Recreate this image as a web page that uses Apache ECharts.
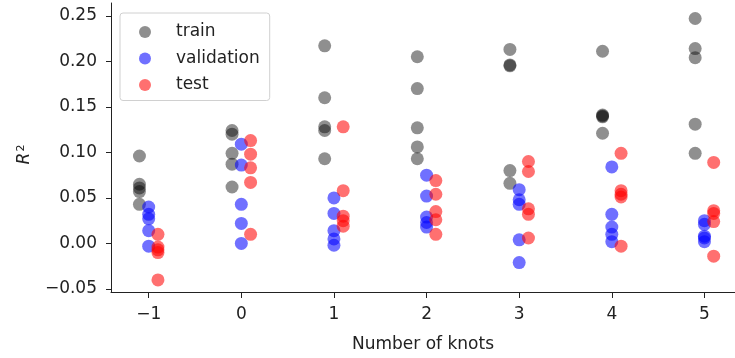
<!DOCTYPE html>
<html>
<head>
<meta charset="utf-8">
<script src="https://cdn.jsdelivr.net/npm/echarts@6/dist/echarts.min.js"></script>
<style>
  html, body { margin: 0; padding: 0; background: #fff; }
  #chart { width: 735px; height: 358px; }
</style>
</head>
<body>
<div id="chart"></div>
<script>
// 节点数
const knots = [-1, 0, 1, 2, 3, 4, 5];
// 每个节点数下 5 次运行的 R^2
const trainR2 = [
  [0.096, 0.065, 0.061, 0.057, 0.043],
  [0.124, 0.120, 0.099, 0.087, 0.062],
  [0.217, 0.160, 0.128, 0.124, 0.093],
  [0.205, 0.170, 0.127, 0.106, 0.093],
  [0.213, 0.196, 0.195, 0.080, 0.066],
  [0.211, 0.141, 0.140, 0.139, 0.121],
  [0.247, 0.214, 0.204, 0.131, 0.099]
];
const validR2 = [
  [0.040, 0.032, 0.027, 0.014, -0.003],
  [0.109, 0.086, 0.043, 0.022, 0.000],
  [0.050, 0.033, 0.014, 0.005, -0.002],
  [0.075, 0.052, 0.029, 0.023, 0.018],
  [0.059, 0.048, 0.043, 0.004, -0.021],
  [0.084, 0.032, 0.018, 0.010, 0.002],
  [0.025, 0.021, 0.008, 0.006, 0.002]
];
const testR2 = [
  [0.010, -0.004, -0.007, -0.010, -0.040],
  [0.113, 0.098, 0.083, 0.067, 0.010],
  [0.128, 0.058, 0.030, 0.025, 0.019],
  [0.069, 0.054, 0.035, 0.026, 0.010],
  [0.090, 0.079, 0.038, 0.032, 0.006],
  [0.099, 0.058, 0.054, 0.051, -0.003],
  [0.089, 0.036, 0.033, 0.024, -0.014]
];
const xTicks = [-1, 0, 1, 2, 3, 4, 5];
const yTicks = [-0.05, 0, 0.05, 0.10, 0.15, 0.20, 0.25];

// 把每组数据展开成散点，左右错开一点
function toPoints(groups, shift) {
  let pts = [];
  for (let i = 0; i < knots.length; i++) {
    for (let j = 0; j < groups[i].length; j++) {
      pts.push([knots[i] + shift, groups[i][j]]);
    }
  }
  return pts;
}
const minus = (s) => s.replace('-', '\u2212');
const font = 'DejaVu Sans';
const axisColor = '#222';
const fs = 17;

let myChart = echarts.init(document.getElementById('chart'), null, { renderer: 'canvas' });
let options = {
  animation: false,
  textStyle: { fontFamily: font },
  grid: { left: 111, top: 3, right: 0, bottom: 66 },
  legend: {
    orient: 'vertical',
    left: 120,
    top: 13,
    padding: [10.5, 10, 7, 19],
    itemWidth: 12,
    itemHeight: 12,
    itemGap: 9.5,
    borderColor: '#d0d0d0',
    borderWidth: 1,
    borderRadius: 3,
    textStyle: { fontFamily: font, fontSize: fs, color: '#222', padding: [0, 0, 0, 20] },
    data: ['train', 'validation', 'test']
  },
  xAxis: {
    type: 'value',
    min: -1.407,
    max: 5.33,
    name: 'Number of knots',
    nameLocation: 'middle',
    nameGap: 44,
    nameTextStyle: { fontFamily: font, fontSize: fs, color: '#222' },
    axisLine: { show: true, onZero: false, lineStyle: { color: axisColor, width: 1 } },
    axisTick: { show: true, length: 6, customValues: xTicks, lineStyle: { color: axisColor } },
    axisLabel: {
      customValues: xTicks, margin: 14, fontFamily: font, fontSize: fs, color: '#222',
      formatter: (v) => minus(String(v))
    },
    splitLine: { show: false }
  },
  yAxis: {
    type: 'value',
    min: -0.0533,
    max: 0.264,
    name: '{r|R}{s|2}',
    nameLocation: 'middle',
    nameGap: 78,
    nameRotate: 90,
    nameTextStyle: {
      padding: [0, 14, 0, 0],
      rich: {
        r: { fontFamily: font, fontSize: fs, fontStyle: 'italic', color: '#222' },
        s: { fontFamily: font, fontSize: 11, color: '#222', verticalAlign: 'top', padding: [0, 0, 6, 1] }
      }
    },
    axisLine: { show: true, onZero: false, lineStyle: { color: axisColor, width: 1 } },
    axisTick: { show: true, length: 5, customValues: yTicks, lineStyle: { color: axisColor } },
    axisLabel: {
      customValues: yTicks, margin: 14, fontFamily: font, fontSize: fs, color: '#222',
      formatter: (v) => minus(v.toFixed(2))
    },
    splitLine: { show: false }
  },
  series: [
    {
      name: 'train', type: 'scatter', symbolSize: 13,
      itemStyle: { color: 'rgba(0,0,0,0.55)' },
      data: toPoints(trainR2, -0.1)
    },
    {
      name: 'validation', type: 'scatter', symbolSize: 13,
      itemStyle: { color: 'rgba(0,0,255,0.7)' },
      data: toPoints(validR2, 0)
    },
    {
      name: 'test', type: 'scatter', symbolSize: 13,
      itemStyle: { color: 'rgba(255,0,0,0.7)' },
      data: toPoints(testR2, 0.1)
    }
  ]
};
myChart.setOption(options);
</script>
</body>
</html>
